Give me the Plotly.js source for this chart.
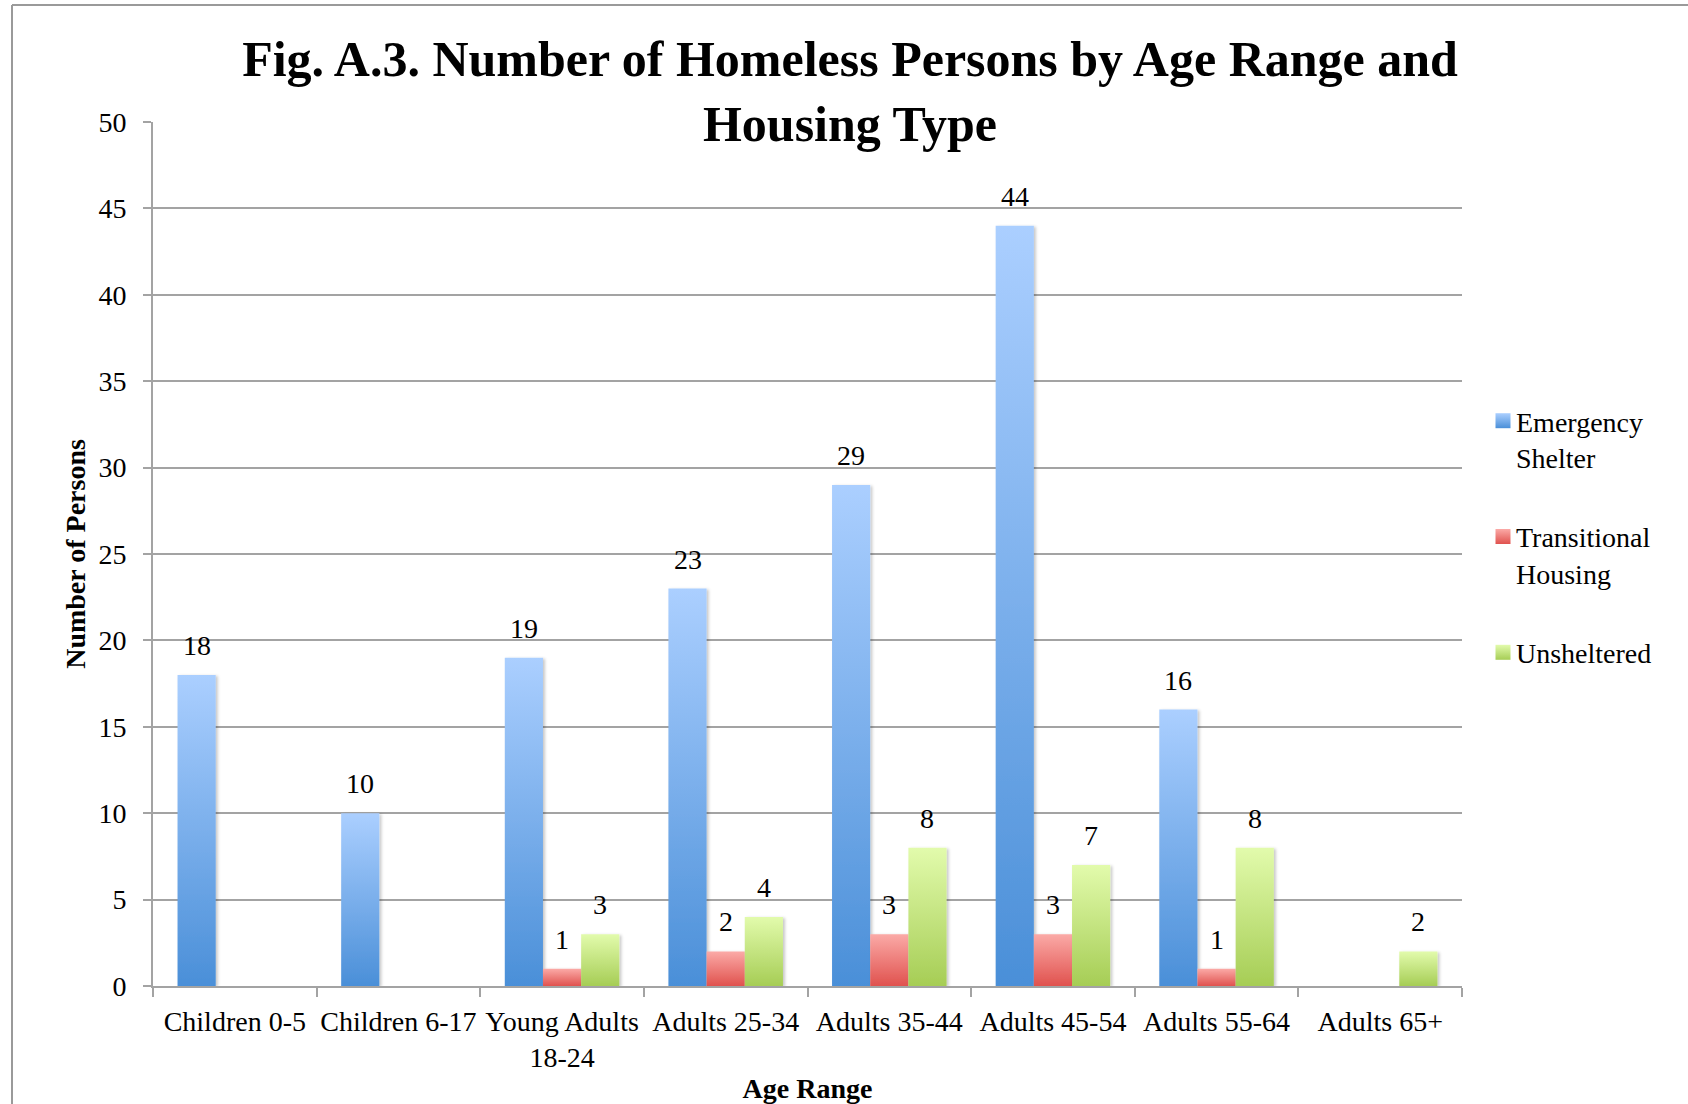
<!DOCTYPE html>
<html>
<head>
<meta charset="utf-8">
<script src="https://cdn.plot.ly/plotly-3.0.1.min.js"></script>
<style>
  html, body { margin: 0; padding: 0; background: #ffffff; }
  #chart { width: 1688px; height: 1104px; }
</style>
</head>
<body>
<div id="chart"></div>
<script>
// ---- data ----
const categories = ["Children 0-5", "Children 6-17", "Young Adults<br>18-24", "Adults 25-34",
                    "Adults 35-44", "Adults 45-54", "Adults 55-64", "Adults 65+"];
const seriesNames = ["Emergency<br>Shelter", "Transitional<br>Housing", "Unsheltered"];
const emergencyShelter   = [18, 10, 19, 23, 29, 44, 16, 0];
const transitionalHousing = [0, 0, 1, 2, 3, 3, 1, 0];
const unsheltered        = [0, 0, 3, 4, 8, 7, 8, 2];
const yTickValues = [0, 5, 10, 15, 20, 25, 30, 35, 40, 45, 50];

// ---- styling ----
const FONT = "Liberation Serif, Times New Roman, serif";
const FS = 28;
const gradients = [
  { id: "gradES", top: "#abcfff", bottom: "#4a8fd8" },
  { id: "gradTH", top: "#fbaaa7", bottom: "#e0524e" },
  { id: "gradUN", top: "#e2fbac", bottom: "#a6cd55" }
];
const midColors = ["#7aaee9", "#ee7e7a", "#c4e480"];
const GRID = "#a3a3a3";

const W = 1688, H = 1104;
const M = { l: 153, r: 1688 - 1462, t: 122, b: 1104 - 986 };
const plotW = W - M.l - M.r;
const BARGAP = 0.3;
const barPx = plotW / categories.length * (1 - BARGAP) / 3;

const allSeries = [emergencyShelter, transitionalHousing, unsheltered];

const traces = allSeries.map((vals, s) => ({
  type: "bar",
  name: seriesNames[s],
  x: categories,
  y: vals,
  marker: { color: midColors[s], line: { width: 0 } },
  legendgroup: "g" + s,
  hoverinfo: "x+y+name"
}));

// data labels (value above each non-zero bar)
const annotations = [];
allSeries.forEach((vals, s) => {
  vals.forEach((v, i) => {
    if (v > 0) {
      annotations.push({
        x: categories[i], y: v, xref: "x", yref: "y",
        text: String(v), showarrow: false,
        xanchor: "center", yanchor: "bottom",
        xshift: (s - 1) * barPx, yshift: 12,
        font: { family: FONT, size: FS, color: "#000000" }
      });
    }
  });
});

// outer frame lines (top and left), as in the reference
const px2x = p => (p - M.l) / plotW;
const px2y = p => (H - M.b - p) / (H - M.t - M.b);
const shapes = [
  { type: "line", xref: "paper", yref: "paper", x0: px2x(12), x1: px2x(W + 2), y0: px2y(5), y1: px2y(5),
    line: { color: "#9a9a9a", width: 2 } },
  { type: "line", xref: "paper", yref: "paper", x0: px2x(12), x1: px2x(12), y0: px2y(5), y1: px2y(H + 2),
    line: { color: "#9a9a9a", width: 2 } }
];

const layout = {
  width: W, height: H,
  margin: M,
  paper_bgcolor: "#ffffff",
  plot_bgcolor: "#ffffff",
  font: { family: FONT, size: FS, color: "#000000" },
  title: {
    text: "Fig. A.3. Number of Homeless Persons by Age Range and<br>Housing Type",
    font: { family: FONT, size: 50, color: "#000000", weight: "bold" },
    xref: "container", x: 850 / W, xanchor: "center",
    yref: "container", y: 1 - 76 / H, yanchor: "top",
    pad: { t: 0, b: 0, l: 0, r: 0 }
  },
  barmode: "group",
  bargap: BARGAP,
  bargroupgap: 0,
  showlegend: true,
  legend: {
    x: px2x(1476), xanchor: "left",
    y: px2y(396), yanchor: "top",
    traceorder: "grouped",
    tracegroupgap: 40,
    valign: "top",
    font: { family: FONT, size: FS, color: "#000000" },
    bgcolor: "rgba(0,0,0,0)",
    itemclick: false, itemdoubleclick: false
  },
  xaxis: {
    type: "category",
    showline: true, linecolor: GRID, linewidth: 2,
    ticks: "outside", tickson: "boundaries", ticklen: 9, tickcolor: GRID, tickwidth: 2,
    showgrid: false, zeroline: false,
    tickangle: 0,
    tickfont: { family: FONT, size: FS, color: "#000000" },
    ticklabelstandoff: 9,
    title: {
      text: "Age Range",
      font: { family: FONT, size: FS, color: "#000000", weight: "bold" },
      standoff: 10
    },
    automargin: false,
    fixedrange: true
  },
  yaxis: {
    range: [0, 50],
    tickvals: yTickValues,
    showline: true, linecolor: GRID, linewidth: 2,
    ticks: "outside", ticklen: 8, tickcolor: GRID, tickwidth: 2,
    showgrid: true, gridcolor: GRID, gridwidth: 2,
    zeroline: false,
    tickfont: { family: FONT, size: FS, color: "#000000" },
    ticklabelstandoff: 11,
    title: {
      text: "Number of Persons",
      font: { family: FONT, size: FS, color: "#000000", weight: "bold" },
      standoff: 5
    },
    automargin: false,
    fixedrange: true
  },
  annotations: annotations,
  shapes: shapes
};

function applyGradients(gd) {
  const svg = gd.querySelector("svg.main-svg");
  if (!svg) return;
  const NS = "http://www.w3.org/2000/svg";
  let defs = svg.querySelector("defs");
  if (!defs) { defs = document.createElementNS(NS, "defs"); svg.insertBefore(defs, svg.firstChild); }
  gradients.forEach(g => {
    const lg = document.createElementNS(NS, "linearGradient");
    lg.setAttribute("id", g.id);
    lg.setAttribute("x1", "0"); lg.setAttribute("y1", "0");
    lg.setAttribute("x2", "0"); lg.setAttribute("y2", "1");
    const s1 = document.createElementNS(NS, "stop");
    s1.setAttribute("offset", "0"); s1.setAttribute("stop-color", g.top);
    const s2 = document.createElementNS(NS, "stop");
    s2.setAttribute("offset", "1"); s2.setAttribute("stop-color", g.bottom);
    lg.appendChild(s1); lg.appendChild(s2);
    defs.appendChild(lg);
  });
  const filt = document.createElementNS(NS, "filter");
  filt.setAttribute("id", "barShadow");
  filt.setAttribute("x", "-20%"); filt.setAttribute("y", "-5%");
  filt.setAttribute("width", "150%"); filt.setAttribute("height", "115%");
  const ds = document.createElementNS(NS, "feDropShadow");
  ds.setAttribute("dx", "2"); ds.setAttribute("dy", "1");
  ds.setAttribute("stdDeviation", "1.5");
  ds.setAttribute("flood-color", "#000"); ds.setAttribute("flood-opacity", "0.22");
  filt.appendChild(ds);
  defs.appendChild(filt);

  const barTraces = gd.querySelectorAll(".barlayer .trace");
  barTraces.forEach((t, i) => {
    t.querySelectorAll("path").forEach(p => {
      p.style.fill = "url(#" + gradients[i].id + ")";
      p.style.filter = "url(#barShadow)";
    });
  });
  const legendItems = gd.querySelectorAll(".legend .traces");
  legendItems.forEach((t, i) => {
    t.querySelectorAll(".legendpoints path").forEach(p => {
      p.setAttribute("d", "M14.5,7.5H-0.5V-7.5H14.5Z");
      p.style.fill = "url(#" + gradients[i].id + ")";
    });
  });
}

Plotly.newPlot("chart", traces, layout, { displayModeBar: false, staticPlot: false, responsive: false })
  .then(gd => applyGradients(gd));
</script>
</body>
</html>
